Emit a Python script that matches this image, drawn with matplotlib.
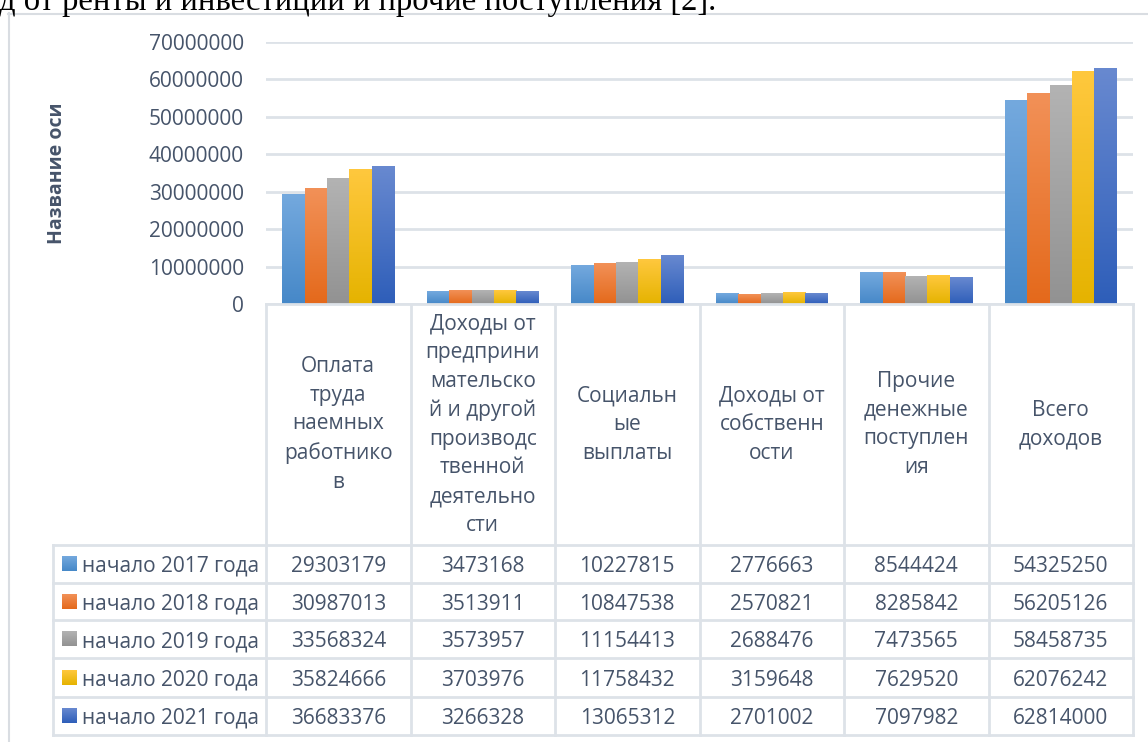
import numpy as np
import matplotlib.pyplot as plt
from matplotlib.colors import LinearSegmentedColormap

# категории (подписи в шапке таблицы)
categories = ["Оплата\nтруда\nнаемных\nработнико\nв",
              "Доходы от\nпредприни\nмательско\nй и другой\nпроизводс\nтвенной\nдеятельно\nсти",
              "Социальн\nые\nвыплаты",
              "Доходы от\nсобственн\nости",
              "Прочие\nденежные\nпоступлен\nия",
              "Всего\nдоходов"]
series_names = ["начало 2017 года", "начало 2018 года", "начало 2019 года",
                "начало 2020 года", "начало 2021 года"]
v2017 = [29303179, 3473168, 10227815, 2776663, 8544424, 54325250]
v2018 = [30987013, 3513911, 10847538, 2570821, 8285842, 56205126]
v2019 = [33568324, 3573957, 11154413, 2688476, 7473565, 58458735]
v2020 = [35824666, 3703976, 11758432, 3159648, 7629520, 62076242]
v2021 = [36683376, 3266328, 13065312, 2701002, 7097982, 62814000]
values = [v2017, v2018, v2019, v2020, v2021]
yticks = [0, 10000000, 20000000, 30000000, 40000000, 50000000, 60000000, 70000000]

# градиент: верх светлее, низ темнее
grad_cols = [("#74a9de", "#4688c8"), ("#f29158", "#e4691b"), ("#b3b3b3", "#929292"),
             ("#ffc83e", "#e5b300"), ("#6889d0", "#2e5eb9")]
mid_cols = ["#5b9bd5", "#ed7d31", "#a5a5a5", "#ffc000", "#4472c4"]

TXT = "#46546a"
LINE = "#dde2e8"
FONT = ['Open Sans', 'DejaVu Sans']
plt.rcParams['font.family'] = FONT

W, H = 1148, 742
x_left, x_right = 266, 1133
y_zero, y_top = 304, 42

fig = plt.figure(figsize=(W / 100, H / 100), dpi=100)
ax = fig.add_axes([x_left / W, 1 - y_zero / H, (x_right - x_left) / W, (y_zero - y_top) / H])
ax.patch.set_visible(False)

n = len(values)
bw = 0.773 / n
x = np.arange(len(categories))
grad = np.linspace(0, 1, 256).reshape(-1, 1)
for i, vals in enumerate(values):
    bars = ax.bar(x - 0.773 / 2 + bw * (i + 0.5), vals, bw, color=mid_cols[i], zorder=2)
    cmap = LinearSegmentedColormap.from_list("g%d" % i, grad_cols[i])
    for b in bars:
        ax.imshow(grad, extent=(b.get_x(), b.get_x() + b.get_width(), 0, b.get_height()),
                  cmap=cmap, aspect='auto', zorder=3)
ax.set_xlim(-0.5, len(categories) - 0.5)
ax.set_ylim(0, 70000000)
ax.set_yticks(yticks)
ax.set_yticklabels([str(t) for t in yticks], fontsize=15, color=TXT)
ax.set_xticks([])
ax.tick_params(axis='y', length=0, pad=16)
ax.yaxis.grid(True, color=LINE, lw=2)
ax.set_axisbelow(True)
for s in ax.spines.values():
    s.set_visible(False)

# таблица данных и рамка — в пиксельных координатах
ov = fig.add_axes([0, 0, 1, 1])
ov.set_xlim(0, W)
ov.set_ylim(H, 0)
ov.axis('off')
ov.patch.set_visible(False)

ov.text(-1, 10, "д от ренты и инвестиции и прочие поступления [2].",
        fontfamily='Liberation Serif', fontsize=23.5, va='baseline', ha='left', color='black')
ov.plot([8.5, 8.5], [13, H], color="#d9dde2", lw=1.5)
ov.plot([8, W], [13.5, 13.5], color="#d9dde2", lw=1.5)

ov.text(57, 173, "Название оси", rotation=90, fontsize=14, fontweight='bold',
        color=TXT, ha='center', va='center')

col_w = (x_right - x_left) / len(categories)
row_y = [545, 583, 620, 658, 697, 735]
tab_left = 53
ov.plot([x_left, x_right], [y_zero, y_zero], color=LINE, lw=2)
for k in range(len(categories) + 1):
    ov.plot([x_left + k * col_w] * 2, [y_zero, row_y[-1]], color=LINE, lw=2)
for y in row_y:
    ov.plot([tab_left, x_right], [y, y], color=LINE, lw=2)
ov.plot([tab_left, tab_left], [row_y[0], row_y[-1]], color=LINE, lw=2)

for j, c in enumerate(categories):
    ov.text(x_left + (j + 0.5) * col_w, (y_zero + row_y[0]) / 2, c, ha='center', va='center',
            fontsize=15, color=TXT, linespacing=1.48)

for i, vals in enumerate(values):
    yc = (row_y[i] + row_y[i + 1]) / 2
    cmap = LinearSegmentedColormap.from_list("s%d" % i, grad_cols[i])
    ov.imshow(grad, extent=(62, 77, yc + 7.5, yc - 7.5), cmap=cmap, aspect='auto')
    ov.text(82, yc, series_names[i], ha='left', va='center_baseline', fontsize=15, color=TXT)
    for j, v in enumerate(vals):
        ov.text(x_left + (j + 0.5) * col_w, yc, str(v), ha='center', va='center_baseline',
                fontsize=15, color=TXT)
ov.set_xlim(0, W)
ov.set_ylim(H, 0)

fig.savefig("out.png", dpi=100, facecolor='white')
